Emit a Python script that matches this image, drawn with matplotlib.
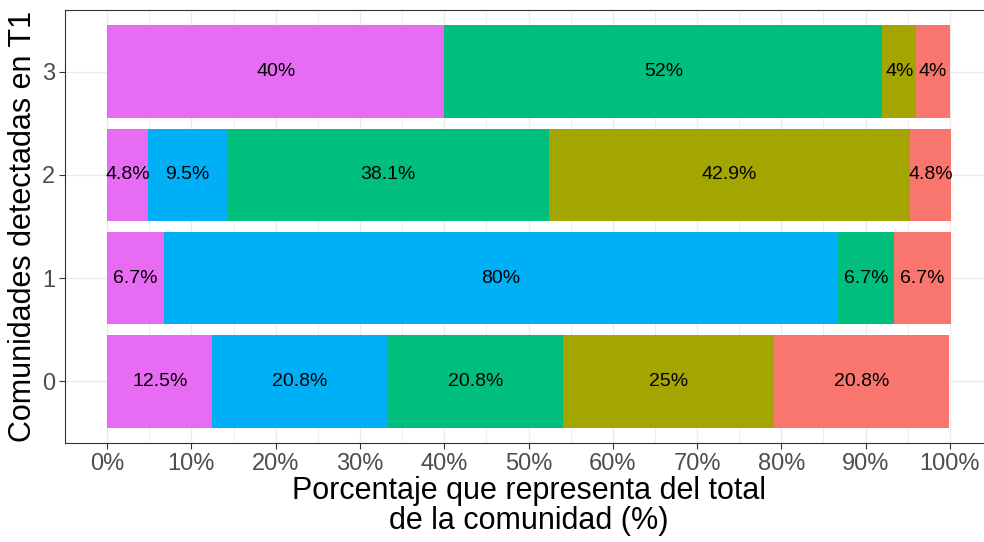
import numpy as np
import matplotlib.pyplot as plt
from matplotlib.ticker import MultipleLocator, FuncFormatter

plt.rcParams['font.family'] = ['Liberation Sans', 'DejaVu Sans']

# Communities detected in T1 (y categories) and share of each group (%)
comunidades = [0, 1, 2, 3]
grupo_e = [12.5, 6.7, 4.8, 40]     # pink
grupo_d = [20.8, 80, 9.5, 0]       # blue
grupo_c = [20.8, 6.7, 38.1, 52]    # green
grupo_b = [25, 0, 42.9, 4]         # olive
grupo_a = [20.8, 6.7, 4.8, 4]      # red

series = [grupo_e, grupo_d, grupo_c, grupo_b, grupo_a]
colores = ['#E76BF3', '#00B0F6', '#00BF7D', '#A3A500', '#F8766D']

fig = plt.figure(figsize=(9.84, 5.42), dpi=100)
# panel runs slightly past the right edge, like the cropped original
ax = fig.add_axes([65 / 984, 1 - 443 / 542, (992 - 65) / 984, (443 - 10) / 542])

left = np.zeros(len(comunidades))
for vals, col in zip(series, colores):
    vals = np.array(vals, dtype=float)
    ax.barh(comunidades, vals, left=left, height=0.9, color=col, zorder=2)
    for y, l, v in zip(comunidades, left, vals):
        if v > 0:
            ax.text(l + v / 2, y, f'{v:g}%', ha='center', va='center',
                    fontsize=14, color='black', zorder=3)
    left += vals

ax.set_xlim(-5, 105)
ax.set_ylim(-0.6, 3.6)
ax.set_yticks(comunidades)
ax.xaxis.set_major_locator(MultipleLocator(10))
ax.xaxis.set_minor_locator(MultipleLocator(5))
ax.xaxis.set_major_formatter(FuncFormatter(lambda v, p: f'{v:.0f}%'))

ax.grid(True, which='major', color='#EBEBEB', linewidth=1.0, zorder=0)
ax.grid(True, which='minor', axis='x', color='#EBEBEB', linewidth=0.6, zorder=0)
ax.set_axisbelow(True)

for s in ax.spines.values():
    s.set_color('#333333')
    s.set_linewidth(0.8)
ax.spines['right'].set_visible(False)

ax.tick_params(axis='both', which='major', labelsize=17, labelcolor='#4D4D4D',
               color='#333333', length=4, width=0.8, pad=3)
ax.tick_params(axis='x', which='minor', length=0)

ax.set_xlabel('Porcentaje que representa del total\nde la comunidad (%)',
              fontsize=22, labelpad=1, linespacing=1.0)
ax.set_ylabel('Comunidades detectadas en T1', fontsize=22, labelpad=3)

plt.savefig('out.png', dpi=100)
